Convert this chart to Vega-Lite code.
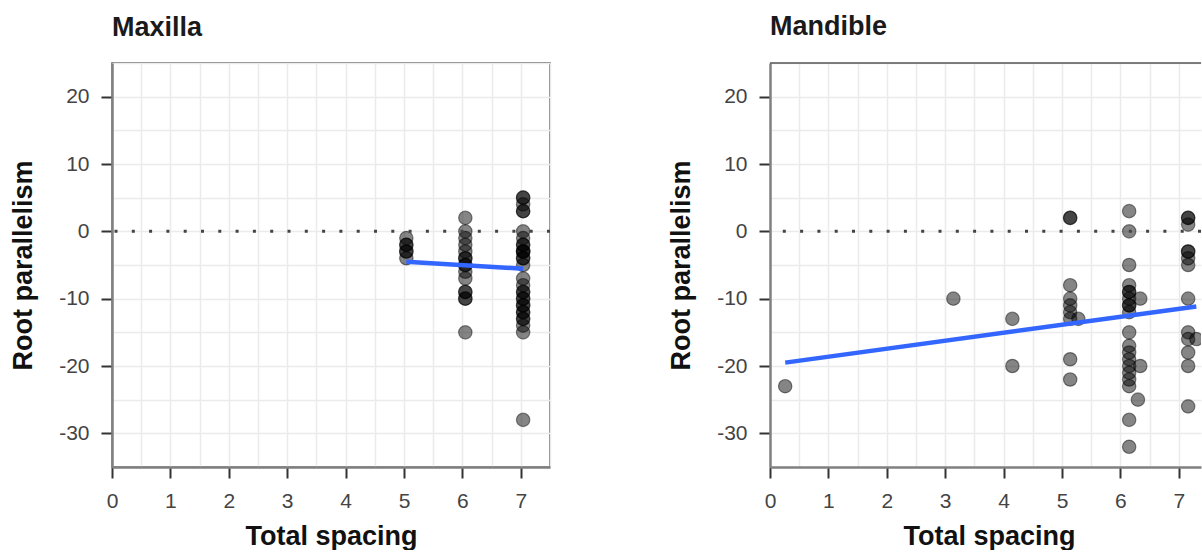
{
  "$schema": "https://vega.github.io/schema/vega-lite/v6.json",
  "padding": {"left": 8, "top": 13, "right": 0, "bottom": 0},
  "background": "white",
  "bounds": "flush",
  "spacing": 220,
  "config": {
    "font": "Liberation Sans",
    "view": {"stroke": "#555555", "strokeWidth": 1.5}
  },
  "datasets": {
    "pts": [
      {"jaw": "Maxilla", "spacing": 5.04, "parallelism": -1},
      {"jaw": "Maxilla", "spacing": 5.04, "parallelism": -2},
      {"jaw": "Maxilla", "spacing": 5.04, "parallelism": -2},
      {"jaw": "Maxilla", "spacing": 5.04, "parallelism": -3},
      {"jaw": "Maxilla", "spacing": 5.04, "parallelism": -3},
      {"jaw": "Maxilla", "spacing": 5.04, "parallelism": -4},
      {"jaw": "Maxilla", "spacing": 6.05, "parallelism": 2},
      {"jaw": "Maxilla", "spacing": 6.05, "parallelism": 0},
      {"jaw": "Maxilla", "spacing": 6.05, "parallelism": -1},
      {"jaw": "Maxilla", "spacing": 6.05, "parallelism": -2},
      {"jaw": "Maxilla", "spacing": 6.05, "parallelism": -3},
      {"jaw": "Maxilla", "spacing": 6.05, "parallelism": -4},
      {"jaw": "Maxilla", "spacing": 6.05, "parallelism": -4},
      {"jaw": "Maxilla", "spacing": 6.05, "parallelism": -5},
      {"jaw": "Maxilla", "spacing": 6.05, "parallelism": -5},
      {"jaw": "Maxilla", "spacing": 6.05, "parallelism": -6},
      {"jaw": "Maxilla", "spacing": 6.05, "parallelism": -7},
      {"jaw": "Maxilla", "spacing": 6.05, "parallelism": -9},
      {"jaw": "Maxilla", "spacing": 6.05, "parallelism": -9},
      {"jaw": "Maxilla", "spacing": 6.05, "parallelism": -10},
      {"jaw": "Maxilla", "spacing": 6.05, "parallelism": -10},
      {"jaw": "Maxilla", "spacing": 6.05, "parallelism": -15},
      {"jaw": "Maxilla", "spacing": 7.04, "parallelism": 5},
      {"jaw": "Maxilla", "spacing": 7.04, "parallelism": 5},
      {"jaw": "Maxilla", "spacing": 7.04, "parallelism": 4},
      {"jaw": "Maxilla", "spacing": 7.04, "parallelism": 3},
      {"jaw": "Maxilla", "spacing": 7.04, "parallelism": 3},
      {"jaw": "Maxilla", "spacing": 7.04, "parallelism": 0},
      {"jaw": "Maxilla", "spacing": 7.04, "parallelism": -1},
      {"jaw": "Maxilla", "spacing": 7.04, "parallelism": -2},
      {"jaw": "Maxilla", "spacing": 7.04, "parallelism": -2},
      {"jaw": "Maxilla", "spacing": 7.04, "parallelism": -3},
      {"jaw": "Maxilla", "spacing": 7.04, "parallelism": -3},
      {"jaw": "Maxilla", "spacing": 7.04, "parallelism": -3},
      {"jaw": "Maxilla", "spacing": 7.04, "parallelism": -4},
      {"jaw": "Maxilla", "spacing": 7.04, "parallelism": -4},
      {"jaw": "Maxilla", "spacing": 7.04, "parallelism": -5},
      {"jaw": "Maxilla", "spacing": 7.04, "parallelism": -7},
      {"jaw": "Maxilla", "spacing": 7.04, "parallelism": -8},
      {"jaw": "Maxilla", "spacing": 7.04, "parallelism": -9},
      {"jaw": "Maxilla", "spacing": 7.04, "parallelism": -9},
      {"jaw": "Maxilla", "spacing": 7.04, "parallelism": -10},
      {"jaw": "Maxilla", "spacing": 7.04, "parallelism": -10},
      {"jaw": "Maxilla", "spacing": 7.04, "parallelism": -11},
      {"jaw": "Maxilla", "spacing": 7.04, "parallelism": -11},
      {"jaw": "Maxilla", "spacing": 7.04, "parallelism": -12},
      {"jaw": "Maxilla", "spacing": 7.04, "parallelism": -12},
      {"jaw": "Maxilla", "spacing": 7.04, "parallelism": -13},
      {"jaw": "Maxilla", "spacing": 7.04, "parallelism": -13},
      {"jaw": "Maxilla", "spacing": 7.04, "parallelism": -14},
      {"jaw": "Maxilla", "spacing": 7.04, "parallelism": -15},
      {"jaw": "Maxilla", "spacing": 7.04, "parallelism": -28},
      {"jaw": "Mandible", "spacing": 0.26, "parallelism": -23},
      {"jaw": "Mandible", "spacing": 3.14, "parallelism": -10},
      {"jaw": "Mandible", "spacing": 4.15, "parallelism": -13},
      {"jaw": "Mandible", "spacing": 4.15, "parallelism": -20},
      {"jaw": "Mandible", "spacing": 5.14, "parallelism": 2},
      {"jaw": "Mandible", "spacing": 5.14, "parallelism": 2},
      {"jaw": "Mandible", "spacing": 5.14, "parallelism": -8},
      {"jaw": "Mandible", "spacing": 5.14, "parallelism": -10},
      {"jaw": "Mandible", "spacing": 5.14, "parallelism": -11},
      {"jaw": "Mandible", "spacing": 5.14, "parallelism": -12},
      {"jaw": "Mandible", "spacing": 5.14, "parallelism": -13},
      {"jaw": "Mandible", "spacing": 5.28, "parallelism": -13},
      {"jaw": "Mandible", "spacing": 5.14, "parallelism": -19},
      {"jaw": "Mandible", "spacing": 5.14, "parallelism": -22},
      {"jaw": "Mandible", "spacing": 6.15, "parallelism": 3},
      {"jaw": "Mandible", "spacing": 6.15, "parallelism": 0},
      {"jaw": "Mandible", "spacing": 6.15, "parallelism": -5},
      {"jaw": "Mandible", "spacing": 6.15, "parallelism": -8},
      {"jaw": "Mandible", "spacing": 6.15, "parallelism": -9},
      {"jaw": "Mandible", "spacing": 6.15, "parallelism": -9},
      {"jaw": "Mandible", "spacing": 6.15, "parallelism": -10},
      {"jaw": "Mandible", "spacing": 6.15, "parallelism": -11},
      {"jaw": "Mandible", "spacing": 6.15, "parallelism": -11},
      {"jaw": "Mandible", "spacing": 6.15, "parallelism": -12},
      {"jaw": "Mandible", "spacing": 6.34, "parallelism": -10},
      {"jaw": "Mandible", "spacing": 6.15, "parallelism": -15},
      {"jaw": "Mandible", "spacing": 6.15, "parallelism": -17},
      {"jaw": "Mandible", "spacing": 6.15, "parallelism": -18},
      {"jaw": "Mandible", "spacing": 6.15, "parallelism": -19},
      {"jaw": "Mandible", "spacing": 6.15, "parallelism": -20},
      {"jaw": "Mandible", "spacing": 6.15, "parallelism": -21},
      {"jaw": "Mandible", "spacing": 6.15, "parallelism": -22},
      {"jaw": "Mandible", "spacing": 6.15, "parallelism": -23},
      {"jaw": "Mandible", "spacing": 6.34, "parallelism": -20},
      {"jaw": "Mandible", "spacing": 6.3, "parallelism": -25},
      {"jaw": "Mandible", "spacing": 6.15, "parallelism": -28},
      {"jaw": "Mandible", "spacing": 6.15, "parallelism": -32},
      {"jaw": "Mandible", "spacing": 7.16, "parallelism": 2},
      {"jaw": "Mandible", "spacing": 7.16, "parallelism": 2},
      {"jaw": "Mandible", "spacing": 7.16, "parallelism": 1},
      {"jaw": "Mandible", "spacing": 7.16, "parallelism": -3},
      {"jaw": "Mandible", "spacing": 7.16, "parallelism": -3},
      {"jaw": "Mandible", "spacing": 7.16, "parallelism": -4},
      {"jaw": "Mandible", "spacing": 7.16, "parallelism": -5},
      {"jaw": "Mandible", "spacing": 7.16, "parallelism": -10},
      {"jaw": "Mandible", "spacing": 7.16, "parallelism": -15},
      {"jaw": "Mandible", "spacing": 7.16, "parallelism": -16},
      {"jaw": "Mandible", "spacing": 7.3, "parallelism": -16},
      {"jaw": "Mandible", "spacing": 7.16, "parallelism": -18},
      {"jaw": "Mandible", "spacing": 7.16, "parallelism": -20},
      {"jaw": "Mandible", "spacing": 7.16, "parallelism": -26}
    ],
    "fit": [
      {"jaw": "Maxilla", "spacing": 5.04, "parallelism": -4.5},
      {"jaw": "Maxilla", "spacing": 7.04, "parallelism": -5.55},
      {"jaw": "Mandible", "spacing": 0.26, "parallelism": -19.5},
      {"jaw": "Mandible", "spacing": 7.3, "parallelism": -11.15}
    ],
    "one": [{"k": 1}]
  },
  "hconcat": [
    {
      "width": 438,
      "height": 404,
      "title": {"text": "Maxilla", "anchor": "start", "frame": "group", "fontSize": 27, "fontWeight": "bold", "color": "#1a1a1a", "offset": 21},
      "resolve": {"axis": {"x": "independent", "y": "independent"}},
      "layer": [
        {
          "data": {"name": "pts"},
          "transform": [{"filter": "datum.jaw === 'Maxilla'"}],
          "mark": {"type": "circle", "size": 180, "fill": "black", "fillOpacity": 0.48, "stroke": "black", "strokeOpacity": 0.45, "strokeWidth": 1.2, "clip": true},
          "encoding": {
            "x": {"field": "spacing", "type": "quantitative", "title": "Total spacing",
              "scale": {"domain": [0, 7.5], "nice": false, "zero": false},
              "axis": {"orient": "bottom", "values": [0, 1, 2, 3, 4, 5, 6, 7],
                "labelExpr": "'' + datum.value", "labelOverlap": false, "labelFlush": false, "grid": false,
                "domainColor": "#808080", "domainWidth": 2.5,
                "tickColor": "#333333", "tickWidth": 2, "tickSize": 11,
                "labelFontSize": 21, "labelColor": "#444444", "labelPadding": 12,
                "titleFontSize": 27, "titleFontWeight": "bold", "titleColor": "#111111", "titlePadding": 12}},
            "y": {"field": "parallelism", "type": "quantitative", "title": "Root parallelism",
              "scale": {"domain": [-35, 25], "nice": false, "zero": false},
              "axis": {"orient": "left", "values": [-30, -20, -10, 0, 10, 20],
                "labelExpr": "'' + datum.value", "labelOverlap": false, "labelFlush": false, "grid": false,
                "domainColor": "#808080", "domainWidth": 2.5,
                "tickColor": "#333333", "tickWidth": 2, "tickSize": 11,
                "labelFontSize": 21, "labelColor": "#444444", "labelPadding": 12,
                "titleFontSize": 27, "titleFontWeight": "bold", "titleColor": "#111111", "titlePadding": 21}}
          }
        },
        {
          "data": {"name": "one"},
          "mark": {"type": "rule", "color": "#444444", "strokeWidth": 3, "strokeDash": [3, 14.3]},
          "encoding": {"y": {"datum": 0, "type": "quantitative", "axis": null}}
        },
        {
          "data": {"name": "fit"},
          "transform": [{"filter": "datum.jaw === 'Maxilla'"}],
          "mark": {"type": "line", "color": "#3366FF", "strokeWidth": 4.5, "clip": true},
          "encoding": {
            "x": {"field": "spacing", "type": "quantitative",
              "axis": {"orient": "top", "values": [0, 0.5, 1, 1.5, 2, 2.5, 3, 3.5, 4, 4.5, 5, 5.5, 6, 6.5, 7, 7.5],
                "grid": true, "gridColor": "#ebebeb", "gridWidth": 1.5,
                "labels": false, "ticks": false, "domain": false, "title": null}},
            "y": {"field": "parallelism", "type": "quantitative",
              "axis": {"orient": "right", "values": [-35, -30, -25, -20, -15, -10, -5, 0, 5, 10, 15, 20, 25],
                "grid": true, "gridColor": "#ebebeb", "gridWidth": 1.5,
                "labels": false, "ticks": false, "domain": false, "title": null}}
          }
        }
      ]
    },
    {
      "width": 431,
      "height": 404,
      "view": {"stroke": null},
      "title": {"text": "Mandible", "anchor": "start", "frame": "group", "fontSize": 27, "fontWeight": "bold", "color": "#1a1a1a", "offset": 21},
      "resolve": {"axis": {"x": "independent", "y": "independent"}},
      "layer": [
        {
          "data": {"name": "pts"},
          "transform": [{"filter": "datum.jaw === 'Mandible'"}],
          "mark": {"type": "circle", "size": 180, "fill": "black", "fillOpacity": 0.48, "stroke": "black", "strokeOpacity": 0.45, "strokeWidth": 1.2, "clip": true},
          "encoding": {
            "x": {"field": "spacing", "type": "quantitative", "title": "Total spacing",
              "scale": {"domain": [0, 7.38], "nice": false, "zero": false},
              "axis": {"orient": "bottom", "values": [0, 1, 2, 3, 4, 5, 6, 7],
                "labelExpr": "'' + datum.value", "labelOverlap": false, "labelFlush": false, "grid": false,
                "domainColor": "#808080", "domainWidth": 2.5,
                "tickColor": "#333333", "tickWidth": 2, "tickSize": 11,
                "labelFontSize": 21, "labelColor": "#444444", "labelPadding": 12,
                "titleFontSize": 27, "titleFontWeight": "bold", "titleColor": "#111111", "titlePadding": 12, "titleX": 219, "titleAnchor": "middle"}},
            "y": {"field": "parallelism", "type": "quantitative", "title": "Root parallelism",
              "scale": {"domain": [-35, 25], "nice": false, "zero": false},
              "axis": {"orient": "left", "values": [-30, -20, -10, 0, 10, 20],
                "labelExpr": "'' + datum.value", "labelOverlap": false, "labelFlush": false, "grid": false,
                "domainColor": "#808080", "domainWidth": 2.5,
                "tickColor": "#333333", "tickWidth": 2, "tickSize": 11,
                "labelFontSize": 21, "labelColor": "#444444", "labelPadding": 12,
                "titleFontSize": 27, "titleFontWeight": "bold", "titleColor": "#111111", "titlePadding": 21}}
          }
        },
        {
          "data": {"name": "one"},
          "mark": {"type": "rule", "color": "#555555", "strokeWidth": 1.5},
          "encoding": {"y": {"datum": 25, "type": "quantitative", "axis": null}}
        },
        {
          "data": {"name": "one"},
          "mark": {"type": "rule", "color": "#444444", "strokeWidth": 3, "strokeDash": [3, 14.3]},
          "encoding": {"y": {"datum": 0, "type": "quantitative", "axis": null}}
        },
        {
          "data": {"name": "fit"},
          "transform": [{"filter": "datum.jaw === 'Mandible'"}],
          "mark": {"type": "line", "color": "#3366FF", "strokeWidth": 4.5, "clip": true},
          "encoding": {
            "x": {"field": "spacing", "type": "quantitative",
              "axis": {"orient": "top", "values": [0, 0.5, 1, 1.5, 2, 2.5, 3, 3.5, 4, 4.5, 5, 5.5, 6, 6.5, 7],
                "grid": true, "gridColor": "#ebebeb", "gridWidth": 1.5,
                "labels": false, "ticks": false, "domain": false, "title": null}},
            "y": {"field": "parallelism", "type": "quantitative",
              "axis": {"orient": "right", "values": [-35, -30, -25, -20, -15, -10, -5, 0, 5, 10, 15, 20, 25],
                "grid": true, "gridColor": "#ebebeb", "gridWidth": 1.5,
                "labels": false, "ticks": false, "domain": false, "title": null}}
          }
        }
      ]
    }
  ]
}
